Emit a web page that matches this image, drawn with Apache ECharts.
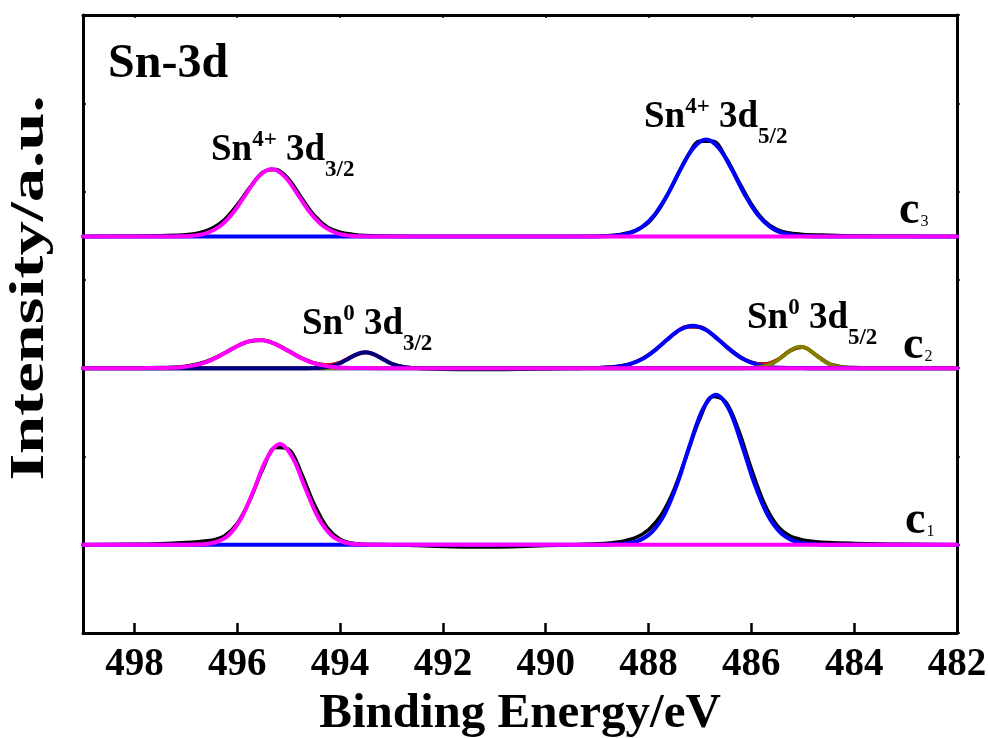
<!DOCTYPE html>
<html>
<head>
<meta charset="utf-8">
<script src="https://cdn.jsdelivr.net/npm/echarts@6/dist/echarts.min.js"></script>
<style>
  html, body { margin: 0; padding: 0; background: #fff; }
  #chart { width: 988px; height: 738px; }
</style>
</head>
<body>
<div id="chart"></div>
<script>
// Sn 3d XPS spectra of three samples (c1, c2, c3), stacked with vertical offsets.
// Each curve is a list of [binding energy (eV), intensity above its own baseline].

const offsets = { c1: 1.0, c2: 3.0, c3: 4.49 };

// ---- c1 ----
const c1Raw = [
  [499, 0], [498, 0.005], [497.5, 0.012], [497, 0.025], [496.75, 0.035], [496.5, 0.05],
  [496.25, 0.10], [496, 0.24], [495.75, 0.51], [495.5, 0.86], [495.25, 1.10], [495, 1.082],
  [494.75, 0.807], [494.5, 0.456], [494.25, 0.195], [494, 0.063], [493.75, 0.016], [493.5, 0.003],
  [493, 0], [492.5, -0.01], [492, -0.02], [491.5, -0.025], [491, -0.025], [490.5, -0.02],
  [490, -0.01], [489.5, 0], [489, 0.01], [488.75, 0.02], [488.5, 0.04], [488.25, 0.08],
  [488, 0.17], [487.75, 0.34], [487.5, 0.63], [487.25, 1.03], [487, 1.43], [486.75, 1.68],
  [486.5, 1.62], [486.25, 1.30], [486, 0.86], [485.75, 0.47], [485.5, 0.22], [485.25, 0.10],
  [485, 0.055], [484.75, 0.035], [484.5, 0.025], [484, 0.015], [483.5, 0.008], [483, 0.004], [482, 0]
];
const c1Sn4p32 = [
  [499, 0], [497.17, 0], [496.92, 0.001], [496.67, 0.006], [496.42, 0.028], [496.17, 0.107],
  [495.92, 0.302], [495.67, 0.631], [495.42, 0.983], [495.17, 1.14], [494.92, 0.983],
  [494.67, 0.631], [494.42, 0.302], [494.17, 0.107], [493.92, 0.028], [493.67, 0.006],
  [493.42, 0.001], [493.17, 0], [482, 0]
];
const c1Sn4p52 = [
  [499, 0], [488.94, 0], [488.69, 0.003], [488.44, 0.013], [488.19, 0.047], [487.94, 0.141],
  [487.69, 0.345], [487.44, 0.693], [487.19, 1.141], [486.94, 1.539], [486.69, 1.70],
  [486.44, 1.539], [486.19, 1.141], [485.94, 0.693], [485.69, 0.345], [485.44, 0.141],
  [485.19, 0.047], [484.94, 0.013], [484.69, 0.003], [484.44, 0], [482, 0]
];

// ---- c2 ----
const c2Raw = [
  [499, 0], [498.5, 0.002], [498, 0.004], [497.5, 0.006], [497.25, 0.01], [497, 0.022],
  [496.75, 0.05], [496.5, 0.10], [496.25, 0.172], [496, 0.25], [495.75, 0.305], [495.5, 0.315],
  [495.25, 0.272], [495, 0.196], [494.75, 0.118], [494.5, 0.06], [494.25, 0.036], [494, 0.062],
  [493.75, 0.134], [493.5, 0.178], [493.25, 0.13], [493, 0.054], [492.75, 0.014], [492.5, 0],
  [492.25, -0.008], [492, -0.012], [491.5, -0.015], [491, -0.015], [490.5, -0.012], [490, -0.006],
  [489.5, 0], [489.25, 0.002], [489, 0.005], [488.75, 0.012], [488.5, 0.03], [488.25, 0.072],
  [488, 0.15], [487.75, 0.265], [487.5, 0.388], [487.25, 0.468], [487, 0.465], [486.75, 0.38],
  [486.5, 0.255], [486.25, 0.142], [486, 0.068], [485.75, 0.046], [485.5, 0.092], [485.25, 0.196],
  [485, 0.236], [484.75, 0.152], [484.5, 0.055], [484.25, 0.016], [484, 0.008], [483.5, 0.004],
  [483, 0.002], [482, 0]
];
const c2Envelope = [
  [499, 0], [497.75, 0], [497.5, 0.0014], [497.25, 0.0053], [497, 0.0167], [496.75, 0.0433],
  [496.5, 0.0934], [496.25, 0.1675], [496, 0.2493], [495.75, 0.308], [495.5, 0.316],
  [495.25, 0.2695], [495, 0.1908], [494.75, 0.112], [494.5, 0.0547], [494.25, 0.0344],
  [494, 0.0635], [493.75, 0.138], [493.5, 0.1805], [493.25, 0.129], [493, 0.0506],
  [492.75, 0.0107], [492.5, 0.0012], [492.25, 0], [489.5, 0], [489.25, 0.0004], [489, 0.0019],
  [488.75, 0.0077], [488.5, 0.0251], [488.25, 0.0673], [488, 0.1476], [487.75, 0.2652],
  [487.5, 0.3904], [487.25, 0.471], [487, 0.465], [486.75, 0.3767], [486.5, 0.2498],
  [486.25, 0.1357], [486, 0.0627], [485.75, 0.041], [485.5, 0.091], [485.25, 0.198],
  [485, 0.239], [484.75, 0.1515], [484.5, 0.0501], [484.25, 0.0087], [484, 0.0008],
  [483.75, 0], [482, 0]
];
const c2Sn4p32 = [
  [499, 0], [497.84, 0], [497.59, 0.001], [497.34, 0.003], [497.09, 0.011], [496.84, 0.031],
  [496.59, 0.072], [496.34, 0.139], [496.09, 0.221], [495.84, 0.292], [495.59, 0.32],
  [495.34, 0.292], [495.09, 0.221], [494.84, 0.139], [494.59, 0.072], [494.34, 0.031],
  [494.09, 0.011], [493.84, 0.003], [493.59, 0.001], [493.34, 0], [482, 0]
];
const c2Sn4p52 = [
  [499, 0], [489.39, 0], [489.14, 0.001], [488.89, 0.004], [488.64, 0.013], [488.39, 0.040],
  [488.14, 0.097], [487.89, 0.196], [487.64, 0.322], [487.39, 0.434], [487.14, 0.48],
  [486.89, 0.434], [486.64, 0.322], [486.39, 0.196], [486.14, 0.097], [485.89, 0.040],
  [485.64, 0.013], [485.39, 0.004], [485.14, 0.001], [484.89, 0], [482, 0]
];
const c2Sn0p32 = [
  [499, 0], [494.64, 0], [494.51, 0.001], [494.385, 0.004], [494.26, 0.012], [494.135, 0.027],
  [494.01, 0.053], [493.885, 0.091], [493.76, 0.133], [493.635, 0.167], [493.51, 0.18],
  [493.385, 0.167], [493.26, 0.133], [493.135, 0.091], [493.01, 0.053], [492.885, 0.027],
  [492.76, 0.012], [492.635, 0.004], [492.51, 0.001], [492.38, 0], [482, 0]
];
const c2Sn0p52 = [
  [499, 0], [486.18, 0], [486.05, 0.001], [485.925, 0.005], [485.8, 0.013], [485.675, 0.032],
  [485.55, 0.066], [485.425, 0.116], [485.3, 0.175], [485.175, 0.223], [485.05, 0.242],
  [484.925, 0.223], [484.8, 0.175], [484.675, 0.116], [484.55, 0.066], [484.425, 0.032],
  [484.3, 0.013], [484.175, 0.005], [484.05, 0.001], [483.92, 0], [482, 0]
];

// ---- c3 ----
const c3Raw = [
  [499, 0], [498, 0.005], [497.5, 0.01], [497, 0.02], [496.75, 0.04], [496.5, 0.09],
  [496.25, 0.19], [496, 0.36], [495.75, 0.56], [495.5, 0.73], [495.25, 0.76], [495, 0.65],
  [494.75, 0.44], [494.5, 0.24], [494.25, 0.11], [494, 0.05], [493.75, 0.025], [493.5, 0.012],
  [493, 0.004], [492, 0], [490, 0], [489, 0.005], [488.75, 0.012], [488.5, 0.03], [488.25, 0.07],
  [488, 0.16], [487.75, 0.35], [487.5, 0.62], [487.25, 0.90], [487, 1.08], [486.75, 1.08],
  [486.5, 0.90], [486.25, 0.63], [486, 0.37], [485.75, 0.18], [485.5, 0.08], [485.25, 0.04],
  [485, 0.025], [484.5, 0.015], [484, 0.008], [483, 0.003], [482, 0]
];
const c3Sn4p32 = [
  [499, 0], [497.33, 0], [497.08, 0.003], [496.83, 0.012], [496.58, 0.043], [496.33, 0.120],
  [496.08, 0.270], [495.83, 0.482], [495.58, 0.682], [495.33, 0.765], [495.08, 0.682],
  [494.83, 0.482], [494.58, 0.270], [494.33, 0.120], [494.08, 0.043], [493.83, 0.012],
  [493.58, 0.003], [493.33, 0], [482, 0]
];
const c3Sn4p52 = [
  [499, 0], [489.13, 0], [488.88, 0.003], [488.63, 0.012], [488.38, 0.039], [488.13, 0.108],
  [487.88, 0.249], [487.63, 0.477], [487.38, 0.759], [487.13, 1.002], [486.88, 1.10],
  [486.63, 1.002], [486.38, 0.759], [486.13, 0.477], [485.88, 0.249], [485.63, 0.108],
  [485.38, 0.039], [485.13, 0.012], [484.88, 0.003], [484.63, 0], [482, 0]
];

const COLORS = {
  raw: '#000000', envelope: '#ff0000', sn4p52: '#0000ff', sn4p32: '#ff00ff',
  sn0p32: '#000080', sn0p52: '#808000'
};
const FONT = '"Liberation Serif", "Times New Roman", serif';

function curve(name, pts, offset, color, width, z) {
  return {
    name: name,
    type: 'line',
    xAxisIndex: 0,
    yAxisIndex: 0,
    data: pts.map(p => [p[0], p[1] + offset]),
    showSymbol: false,
    symbol: 'none',
    smooth: 0.35,
    lineStyle: { color: color, width: width, cap: 'round', join: 'round' },
    z: z,
    silent: true
  };
}

const series = [
  // c1
  curve('c1 raw', c1Raw, offsets.c1, COLORS.raw, 3.5, 2),
  curve('c1 Sn4+ 3d5/2', c1Sn4p52, offsets.c1, COLORS.sn4p52, 4, 3),
  curve('c1 Sn4+ 3d3/2', c1Sn4p32, offsets.c1, COLORS.sn4p32, 4, 6),
  // c2
  curve('c2 raw', c2Raw, offsets.c2, COLORS.raw, 3.5, 2),
  curve('c2 envelope', c2Envelope, offsets.c2, COLORS.envelope, 3.5, 2),
  curve('c2 Sn4+ 3d5/2', c2Sn4p52, offsets.c2, COLORS.sn4p52, 4, 3),
  curve('c2 Sn0 3d5/2', c2Sn0p52, offsets.c2, COLORS.sn0p52, 4, 4),
  curve('c2 Sn0 3d3/2', c2Sn0p32, offsets.c2, COLORS.sn0p32, 4, 5),
  curve('c2 Sn4+ 3d3/2', c2Sn4p32, offsets.c2, COLORS.sn4p32, 4, 6),
  // c3
  curve('c3 raw', c3Raw, offsets.c3, COLORS.raw, 3.5, 2),
  curve('c3 Sn4+ 3d5/2', c3Sn4p52, offsets.c3, COLORS.sn4p52, 4, 3),
  curve('c3 Sn4+ 3d3/2', c3Sn4p32, offsets.c3, COLORS.sn4p32, 4, 6)
];

// Peak labels: all fragments top-aligned, vertical placement set through top padding
// (superscript sits above the main text, subscript drops below it).
const peakRich = {
  m:   { fontFamily: FONT, fontWeight: 'bold', fontSize: 37, padding: [10, 0, 0, 0], verticalAlign: 'top', color: '#000' },
  sup: { fontFamily: FONT, fontWeight: 'bold', fontSize: 23, padding: [7, 0, 0, 0], verticalAlign: 'top', color: '#000' },
  sub: { fontFamily: FONT, fontWeight: 'bold', fontSize: 23, padding: [37, 0, 0, 0], verticalAlign: 'top', color: '#000' }
};
// Sample labels: large "c" with a small index sharing its baseline.
const sampleRich = {
  c: { fontFamily: FONT, fontWeight: 'bold', fontSize: 46, padding: [0, 0, 0, 0], verticalAlign: 'top', color: '#000' },
  n: { fontFamily: FONT, fontWeight: 'normal', fontSize: 16, padding: [25, 0, 0, 1], verticalAlign: 'top', color: '#000' }
};

function richText(x, y, text, rich) {
  return { type: 'text', x: x, y: y, silent: true,
    style: { text: text, rich: rich, verticalAlign: 'top', align: 'left' } };
}

const chart = echarts.init(document.getElementById('chart'), null, { renderer: 'canvas' });

const axisLineStyle = { color: '#000', width: 3 };

chart.setOption({
  animation: false,
  backgroundColor: '#fff',
  grid: { left: 83, right: 31, top: 15, bottom: 105, containLabel: false, outerBoundsMode: 'none' },
  xAxis: [
    {
      type: 'value', min: 482, max: 499, interval: 2, inverse: true, position: 'bottom',
      axisLine: { show: true, onZero: false, lineStyle: axisLineStyle },
      axisTick: { show: true, inside: true, length: 10, lineStyle: { color: '#000', width: 2.5 } },
      axisLabel: { show: true, margin: 12, color: '#000', fontFamily: FONT, fontWeight: 'bold', fontSize: 39,
        formatter: v => (v === 499 ? '' : String(v)) },
      splitLine: { show: false },
      name: 'Binding Energy/eV', nameLocation: 'middle', nameGap: 57,
      nameTextStyle: { color: '#000', fontFamily: FONT, fontWeight: 'bold', fontSize: 49 }
    },
    {
      type: 'value', min: 482, max: 499, interval: 2, inverse: true, position: 'top',
      axisLine: { show: true, onZero: false, lineStyle: axisLineStyle },
      axisTick: { show: true, inside: true, length: 3, lineStyle: { color: '#000', width: 1.5 } },
      axisLabel: { show: false }, splitLine: { show: false }
    }
  ],
  yAxis: [
    {
      type: 'value', min: 0, max: 7, interval: 1, position: 'left',
      axisLine: { show: true, onZero: false, lineStyle: axisLineStyle },
      axisTick: { show: true, inside: true, length: 3, lineStyle: { color: '#000', width: 1.5 } },
      axisLabel: { show: false }, splitLine: { show: false }
    },
    {
      type: 'value', min: 0, max: 7, interval: 1, position: 'right',
      axisLine: { show: true, onZero: false, lineStyle: axisLineStyle },
      axisTick: { show: true, inside: false, length: 3, lineStyle: { color: '#000', width: 1.5 } },
      axisLabel: { show: false }, splitLine: { show: false }
    }
  ],
  series: series,
  graphic: [
    // vertical axis title, widened along its reading direction
    { type: 'text', x: 31, y: 288, rotation: Math.PI / 2, scaleX: 1.43, silent: true,
      style: { text: 'Intensity/a.u.', fill: '#000', font: 'bold 48px ' + FONT, align: 'center', verticalAlign: 'middle' } },
    { type: 'text', x: 108, y: 65, silent: true,
      style: { text: 'Sn-3d', fill: '#000', font: 'bold 48px ' + FONT, verticalAlign: 'middle', align: 'left' } },
    richText(211, 121.5, '{m|Sn}{sup|4+}{m| 3d}{sub|3/2}', peakRich),
    richText(644, 89, '{m|Sn}{sup|4+}{m| 3d}{sub|5/2}', peakRich),
    richText(302, 296, '{m|Sn}{sup|0}{m| 3d}{sub|3/2}', peakRich),
    richText(747, 290, '{m|Sn}{sup|0}{m| 3d}{sub|5/2}', peakRich),
    richText(899, 188.5, '{c|c}{n|3}', sampleRich),
    richText(903, 323.5, '{c|c}{n|2}', sampleRich),
    richText(905, 498.5, '{c|c}{n|1}', sampleRich)
  ]
});
</script>
</body>
</html>
